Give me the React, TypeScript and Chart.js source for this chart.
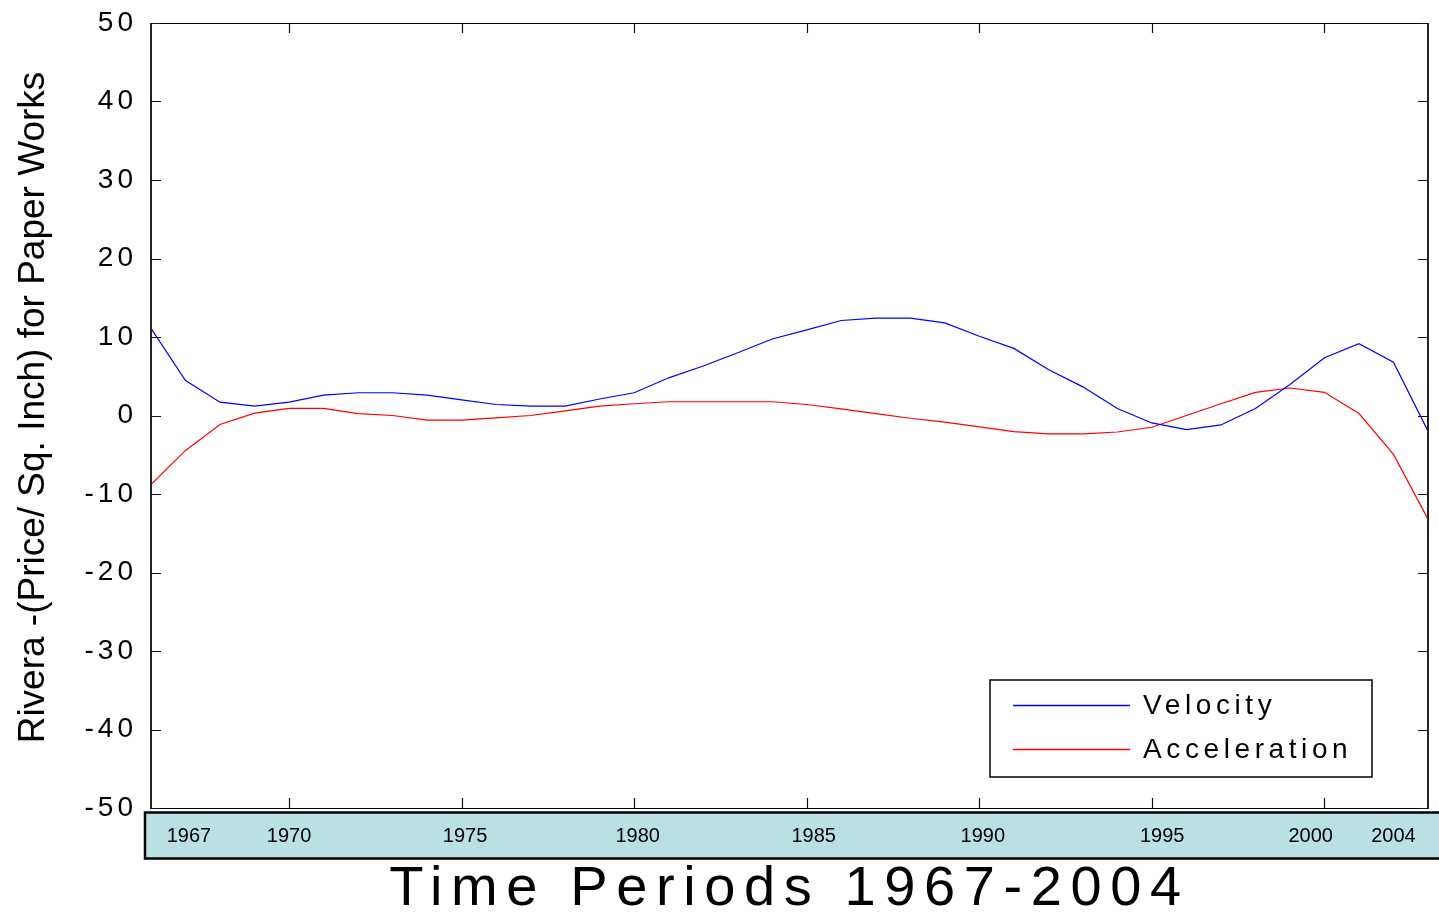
import React, { useEffect, useRef } from "react";
import { Chart, registerables } from "chart.js";

Chart.register(...registerables);

const years = [
  1966, 1967, 1968, 1969, 1970, 1971, 1972, 1973, 1974, 1975, 1976, 1977, 1978,
  1979, 1980, 1981, 1982, 1983, 1984, 1985, 1986, 1987, 1988, 1989, 1990, 1991,
  1992, 1993, 1994, 1995, 1996, 1997, 1998, 1999, 2000, 2001, 2002, 2003,
];

const velocity = [
  11.1, 4.45, 1.7, 1.2, 1.7, 2.6, 2.9, 2.9, 2.6, 2.0, 1.4, 1.2, 1.2, 2.1, 2.9,
  4.8, 6.3, 8.0, 9.75, 10.9, 12.1, 12.4, 12.4, 11.8, 10.1, 8.55, 5.85, 3.65, 0.9,
  -0.95, -1.8, -1.2, 0.9, 3.95, 7.35, 9.15, 6.8, -2.0,
];

const acceleration = [
  -8.8, -4.45, -1.15, 0.3, 0.9, 0.9, 0.25, 0.0, -0.6, -0.6, -0.3, 0.0, 0.6, 1.2,
  1.5, 1.75, 1.75, 1.75, 1.75, 1.4, 0.85, 0.25, -0.35, -0.85, -1.45, -2.05,
  -2.35, -2.35, -2.1, -1.5, 0.0, 1.5, 2.95, 3.5, 2.95, 0.25, -4.95, -13.2,
];

const seriesLabels = ["Velocity", "Acceleration"];
const seriesColors = ["#0000ff", "#ff0000"];

// labels shown in the teal band under the plot, and where they sit on the year axis
const bandLabels = ["1967", "1970", "1975", "1980", "1985", "1990", "1995", "2000", "2004"];
const bandLabelYears = [1967.1, 1970, 1975.1, 1980.1, 1985.2, 1990.1, 1995.3, 1999.6, 2002];

// inward tick marks on the frame (top/bottom)
const frameTickYears = [1970, 1975, 1980, 1985, 1990, 1995, 2000];

const xTitle = "Time Periods 1967-2004";
const yTitle = "Rivera -(Price/ Sq. Inch) for Paper Works";

const FONT = "'Liberation Sans', Arial, Helvetica, sans-serif";

const spacingPlugin = {
  id: "axisLetterSpacing",
  beforeDraw(chart: any) {
    const cfg: any = {
      x: { labels: "0px", title: "8.6px", shift: 0 },
      y: { labels: "4px", title: "0px", shift: -8 },
    };
    for (const id of Object.keys(cfg)) {
      const s: any = chart.scales[id];
      if (!s || s.__spaced) continue;
      const origL = s.drawLabels.bind(s);
      const origT = s.drawTitle.bind(s);
      s.drawLabels = (area: any) => {
        const ctx = s.ctx;
        const p = ctx.letterSpacing;
        ctx.letterSpacing = cfg[id].labels;
        origL(area);
        ctx.letterSpacing = p;
      };
      s.drawTitle = () => {
        const ctx = s.ctx;
        ctx.save();
        ctx.letterSpacing = cfg[id].title;
        ctx.translate(0, cfg[id].shift);
        origT();
        ctx.restore();
      };
      s.__spaced = true;
    }
  },
};

const bandPlugin = {
  id: "band",
  beforeDraw(chart: any) {
    const { ctx, chartArea, width } = chart;
    ctx.save();
    const top = chartArea.bottom + 4.5;
    const h = 46;
    const left = chartArea.left - 6;
    ctx.fillStyle = "#b9e0e3";
    ctx.fillRect(left, top, width - left + 5, h);
    ctx.lineWidth = 2.5;
    ctx.strokeStyle = "#000";
    ctx.strokeRect(left, top, width - left + 5, h);
    ctx.restore();
  },
};

const framePlugin = {
  id: "frame",
  afterDatasetsDraw(chart: any) {
    const { ctx, chartArea } = chart;
    const { left, right, top, bottom } = chartArea;
    const xs = chart.scales.x;
    const ys = chart.scales.y;
    ctx.save();
    ctx.strokeStyle = "#000";
    ctx.lineWidth = 1.2;
    ctx.beginPath();
    ctx.moveTo(left, top + 0.5);
    ctx.lineTo(right, top + 0.5);
    ctx.moveTo(left, bottom + 0.5);
    ctx.lineTo(right, bottom + 0.5);
    ctx.stroke();
    ctx.lineWidth = 2;
    ctx.strokeStyle = "#222";
    ctx.beginPath();
    ctx.moveTo(left, top);
    ctx.lineTo(left, bottom + 1);
    ctx.moveTo(right, top);
    ctx.lineTo(right, bottom + 1);
    ctx.stroke();
    ctx.lineWidth = 1.2;
    ctx.strokeStyle = "#111";
    ctx.beginPath();
    const tl = 10;
    for (const t of ys.ticks) {
      const y = Math.round(ys.getPixelForValue(t.value)) + 0.5;
      ctx.moveTo(left, y);
      ctx.lineTo(left + tl, y);
      ctx.moveTo(right, y);
      ctx.lineTo(right - tl, y);
    }
    for (const yr of frameTickYears) {
      const x = Math.round(xs.getPixelForValue(yr)) + 0.5;
      ctx.moveTo(x, top);
      ctx.lineTo(x, top + tl);
      ctx.moveTo(x, bottom);
      ctx.lineTo(x, bottom - tl);
    }
    ctx.stroke();
    ctx.restore();
  },
};

const legendPlugin = {
  id: "insideLegend",
  afterDraw(chart: any) {
    const { ctx, chartArea } = chart;
    const w = 382;
    const h = 97;
    const right = chartArea.right - 56;
    const bottomY = chartArea.bottom - 31;
    const left = right - w;
    const top = bottomY - h;
    ctx.save();
    ctx.fillStyle = "#fff";
    ctx.fillRect(left, top, w, h);
    ctx.strokeStyle = "#000";
    ctx.lineWidth = 1.5;
    ctx.strokeRect(left, top, w, h);
    const rows = [top + 25, top + 69];
    for (let i = 0; i < seriesLabels.length; i++) {
      const y = rows[i];
      ctx.beginPath();
      ctx.strokeStyle = seriesColors[i];
      ctx.lineWidth = 1.3;
      ctx.moveTo(left + 23, y + 0.5);
      ctx.lineTo(left + 140, y + 0.5);
      ctx.stroke();
      ctx.fillStyle = "#000";
      ctx.font = `28px ${FONT}`;
      ctx.letterSpacing = "4.6px";
      ctx.textAlign = "left";
      ctx.textBaseline = "middle";
      ctx.fillText(seriesLabels[i], left + 153, y + 1);
    }
    ctx.restore();
  },
};

export default function App() {
  const ref = useRef<HTMLCanvasElement | null>(null);

  useEffect(() => {
    document.body.style.margin = "0";
    const canvas = ref.current;
    if (!canvas) return;
    const chart = new Chart(canvas, {
      type: "line",
      data: {
        datasets: [
          {
            label: seriesLabels[0],
            data: years.map((x, i) => ({ x, y: velocity[i] })),
            borderColor: seriesColors[0],
            backgroundColor: seriesColors[0],
            borderWidth: 1.2,
            pointRadius: 0,
            tension: 0,
            fill: false,
          },
          {
            label: seriesLabels[1],
            data: years.map((x, i) => ({ x, y: acceleration[i] })),
            borderColor: seriesColors[1],
            backgroundColor: seriesColors[1],
            borderWidth: 1.2,
            pointRadius: 0,
            tension: 0,
            fill: false,
          },
        ],
      },
      options: {
        responsive: false,
        animation: false,
        devicePixelRatio: 1,
        layout: { padding: { top: 23, right: 11, left: 0, bottom: 0 } },
        plugins: {
          legend: { display: false },
          tooltip: { enabled: false },
          title: { display: false },
        },
        scales: {
          x: {
            type: "linear",
            min: 1966,
            max: 2003,
            grid: { display: false, drawTicks: false },
            border: { display: false },
            afterBuildTicks: (scale: any) => {
              scale.ticks = bandLabelYears.map((v) => ({ value: v }));
            },
            afterFit: (scale: any) => {
              scale.height = 107;
              scale.paddingLeft = 0;
              scale.paddingRight = 0;
            },
            ticks: {
              autoSkip: false,
              maxRotation: 0,
              minRotation: 0,
              padding: 16,
              color: "#000",
              font: { family: FONT, size: 20 },
              callback: (_v: any, i: number) => bandLabels[i],
            },
            title: {
              display: true,
              text: xTitle,
              color: "#000",
              font: { family: FONT, size: 56, lineHeight: 0.9 },
              padding: { top: 0, bottom: 0 },
            },
          },
          y: {
            min: -50,
            max: 50,
            grid: { display: false, drawTicks: false },
            border: { display: false },
            afterFit: (scale: any) => {
              scale.width = 151;
              scale.paddingTop = 0;
              scale.paddingBottom = 0;
            },
            ticks: {
              stepSize: 10,
              padding: 14,
              color: "#000",
              font: { family: FONT, size: 28 },
            },
            title: {
              display: true,
              text: yTitle,
              color: "#000",
              font: { family: FONT, size: 37, lineHeight: 1.2 },
              padding: { top: 12, bottom: 0 },
            },
          },
        },
      },
      plugins: [spacingPlugin, bandPlugin, framePlugin, legendPlugin],
    } as any);
    return () => chart.destroy();
  }, []);

  return (
    <div style={{ width: 1439, height: 915, position: "relative", background: "#fff" }}>
      <canvas ref={ref} width={1439} height={915} style={{ display: "block" }} />
    </div>
  );
}
